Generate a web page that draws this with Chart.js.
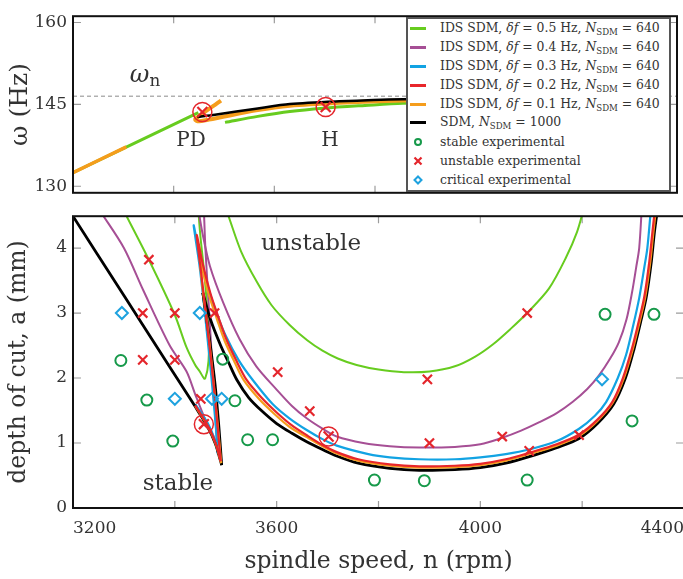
<!DOCTYPE html>
<html lang="en">
<head>
<meta charset="UTF-8">
<title>Stability lobes</title>
<style>
  html, body { margin: 0; padding: 0; background: #fff; overflow: hidden; }
  #wrap { position: relative; width: 683px; height: 579px; overflow: hidden; font-family: 'DejaVu Serif', serif; color: #333; }
  #topChart { position: absolute; left: 0; top: 0; }
  #botChart { position: absolute; left: 0; top: 200px; }
  .lbl { position: absolute; transform: translate(-50%, -50%); white-space: nowrap; line-height: 1; }
  .lbl sub { font-size: 70%; vertical-align: -0.25em; }
  #legend { position: absolute; left: 406px; top: 17px; width: 265px; height: 175px; box-sizing: border-box;
            border: 2px solid #555; background: #fff; font-size: 12.4px; color: #333; }
  .row { height: 18.9px; display: flex; align-items: center; white-space: nowrap; }
  .sw { width: 16px; height: 12px; margin-left: 2px; margin-right: 14px; flex: none; display: flex; align-items: center; justify-content: center; }
  .sw span { display: block; width: 16px; height: 3px; }
  .row sub { font-size: 8.6px; vertical-align: -3px; }
</style>
</head>
<body>
<div id="wrap">
  <canvas id="topChart" width="688" height="209"></canvas>
  <canvas id="botChart" width="695" height="379"></canvas>

  <div class="lbl" style="left:145px; top:75px; font-size:24px;"><i>ω</i><sub>n</sub></div>
  <div class="lbl" style="left:191px; top:139px; font-size:20px;">PD</div>
  <div class="lbl" style="left:330px; top:139px; font-size:20px;">H</div>
  <div class="lbl" style="left:311px; top:242px; font-size:23px;">unstable</div>
  <div class="lbl" style="left:178px; top:482px; font-size:23px;">stable</div>

  <div id="legend"></div>
</div>

<script src="https://cdn.jsdelivr.net/npm/chart.js"></script>
<script>
// ---- data ----
const xTicks = [3200, 3400, 3600, 3800, 4000, 4200, 4400];
const xLabelTicks = [3200, 3600, 4000, 4400];
const topYTicks = [130, 145, 160];
const botYTicks = [0, 1, 2, 3, 4];
const wnLevel = 146.5;

// top panel: chatter frequency (Hz)
const topGreenA = [[3200, 132.5], [3449, 143.5]];
const topOrangeA = [[3200, 132.5], [3306, 137.2]];
const topGreenB = [[3502, 141.7], [3567, 142.8], [3631, 143.7], [3698, 144.3], [3780, 144.8], [3855, 145.2], [4000, 145.5], [4250, 145.7]];
const topOrangeB = [[3494, 145.7], [3443, 142.3], [3447, 141.9], [3470, 142.2], [3567, 143.95], [3631, 144.75], [3729, 145.3], [3855, 145.7], [4000, 145.9], [4250, 146.1]];
const topBlack = [[3447, 142.7], [3482, 143.1], [3567, 144.25], [3631, 145.05], [3729, 145.55], [3855, 145.95], [4000, 146.1], [4250, 146.3]];
const topCircled = [[3457, 143.6], [3702, 144.5]];

// bottom panel: stability lobes, depth of cut (mm)
const sdmLeft = [[3195, 4.55], [3300, 3.27], [3390, 2.17], [3440, 1.56], [3465, 1.24], [3480, 0.98], [3487, 0.8], [3492, 0.66]];
const sdmRise = [[3492, 0.66], [3487, 1.2], [3479, 1.9], [3468, 2.6], [3455, 3.31]];
const sdmRight = [[3455, 3.31], [3470, 2.9], [3490, 2.5], [3505, 2.25], [3522, 1.97], [3545, 1.7], [3570, 1.5], [3600, 1.3], [3630, 1.15], [3659, 1.02], [3690, 0.9], [3718, 0.8], [3760, 0.69], [3822, 0.61], [3880, 0.58], [3950, 0.59], [4000, 0.62], [4050, 0.69], [4096, 0.79], [4150, 0.93], [4194, 1.07], [4230, 1.3], [4262, 1.6], [4285, 2.0], [4302, 2.45], [4316, 2.9], [4326, 3.25], [4336, 3.8], [4342, 4.25], [4348, 4.6]];

const df02Left = [[3440, 1.58], [3465, 1.26], [3480, 1.0], [3490, 0.72]];
const df02Right = [[3490, 0.72], [3484, 1.25], [3475, 2.0], [3463, 2.85], [3452, 3.6], [3443, 4.2], [3455, 3.75], [3470, 3.3], [3485, 2.95], [3500, 2.62], [3520, 2.28], [3541, 1.97], [3570, 1.7], [3600, 1.47], [3630, 1.27], [3659, 1.12], [3690, 0.97], [3718, 0.86], [3760, 0.75], [3822, 0.67], [3880, 0.64], [3950, 0.65], [4000, 0.68], [4050, 0.75], [4096, 0.85], [4150, 0.98], [4194, 1.13], [4230, 1.36], [4259, 1.63], [4280, 2.0], [4298, 2.46], [4312, 2.9], [4322, 3.25], [4332, 3.8], [4338, 4.25], [4343, 4.6]];

const df01Left = [[3440, 1.57], [3465, 1.25], [3480, 0.99], [3491, 0.69]];
const df01Right = [[3491, 0.69], [3485, 1.22], [3476, 1.95], [3465, 2.75], [3455, 3.35], [3447, 4.05], [3455, 3.65], [3468, 3.25], [3483, 2.9], [3498, 2.57], [3517, 2.25], [3535, 1.97], [3565, 1.68], [3595, 1.45], [3625, 1.25], [3659, 1.09], [3690, 0.95], [3718, 0.84], [3760, 0.73], [3822, 0.65], [3880, 0.62], [3950, 0.63], [4000, 0.66], [4050, 0.73], [4096, 0.83], [4150, 0.96], [4194, 1.11], [4230, 1.34], [4260, 1.62], [4282, 2.0], [4300, 2.46], [4314, 2.9], [4324, 3.25], [4334, 3.8], [4340, 4.25], [4345, 4.6]];

const df03Left = [[3440, 1.6], [3465, 1.3], [3478, 1.06], [3485, 0.82]];
const df03Right = [[3485, 0.82], [3480, 1.3], [3472, 2.0], [3461, 2.85], [3449, 3.7], [3437, 4.35], [3450, 3.85], [3465, 3.4], [3482, 3.0], [3500, 2.65], [3525, 2.28], [3553, 1.97], [3592, 1.6], [3625, 1.38], [3659, 1.2], [3690, 1.06], [3718, 0.96], [3780, 0.83], [3822, 0.78], [3880, 0.75], [3950, 0.75], [4000, 0.78], [4050, 0.83], [4096, 0.9], [4150, 1.03], [4194, 1.22], [4225, 1.42], [4247, 1.63], [4270, 2.0], [4286, 2.35], [4300, 2.8], [4312, 3.23], [4322, 3.7], [4328, 4.0], [4335, 4.6]];

const df04Left = [[3255, 4.55], [3300, 4.0], [3338, 3.35], [3390, 2.5], [3423, 2.1], [3440, 1.75], [3462, 1.32], [3475, 1.12], [3483, 0.97]];
const df04Rise = [[3483, 0.97], [3478, 1.6], [3472, 2.4], [3466, 3.2], [3460, 4.0], [3457, 4.6]];
const df04Right = [[3446, 4.6], [3455, 4.2], [3469, 3.72], [3495, 3.16], [3527, 2.6], [3560, 2.18], [3599, 1.83], [3630, 1.57], [3659, 1.38], [3690, 1.22], [3718, 1.1], [3770, 1.0], [3822, 0.95], [3880, 0.93], [3950, 0.94], [4000, 0.98], [4043, 1.08], [4080, 1.19], [4116, 1.32], [4150, 1.46], [4181, 1.63], [4210, 1.83], [4233, 2.04], [4255, 2.3], [4272, 2.55], [4287, 2.9], [4298, 3.32], [4306, 3.7], [4312, 4.0], [4317, 4.6]];

const df05Left = [[3298, 4.6], [3349, 3.82], [3400, 2.97], [3423, 2.47], [3440, 2.2], [3449, 2.1], [3455, 2.02], [3459, 1.98]];
const df05Rise = [[3459, 1.98], [3464, 2.12], [3467, 2.4], [3465, 2.9], [3458, 3.6], [3450, 4.2], [3446, 4.6]];
const df05Right = [[3500, 4.6], [3505, 4.5], [3530, 3.95], [3561, 3.48], [3590, 3.12], [3625, 2.82], [3660, 2.58], [3690, 2.42], [3720, 2.3], [3757, 2.2], [3800, 2.13], [3850, 2.09], [3900, 2.1], [3950, 2.18], [3990, 2.33], [4025, 2.52], [4060, 2.76], [4092, 3.0], [4135, 3.38], [4168, 3.85], [4190, 4.25], [4203, 4.6]];

const stableExp = [[3294, 2.27], [3494, 2.29], [3345, 1.66], [3518, 1.65], [3396, 1.03], [3543, 1.05], [3592, 1.05], [3792, 0.43], [3890, 0.42], [4092, 0.43], [4245, 2.98], [4341, 2.98], [4298, 1.34]];
const unstableExp = [[3349, 3.82], [3337, 3.0], [3400, 3.0], [3478, 3.0], [3337, 2.28], [3400, 2.28], [3451, 1.68], [3602, 2.09], [3665, 1.49], [3896, 1.98], [3900, 1.0], [4092, 3.0], [4043, 1.1], [4096, 0.88], [4194, 1.12]];
const criticalExp = [[3296, 3.0], [3449, 3.0], [3400, 1.68], [3473, 1.68], [3492, 1.68], [4239, 1.98]];
const circledExp = [[3457, 1.29], [3702, 1.1]];

// ---- colours ----
const C = {
  green: '#67cc1f', purple: '#a64f95', blue: '#12a3e3', red: '#e8262b', orange: '#f59d1c', black: '#000',
  mGreen: '#16994a', mRed: '#e4262c', mBlue: '#1ea2df'
};
const FONT = "'DejaVu Serif', serif";

const pts = a => a.map(([x, y]) => ({x, y}));
function curve(a, color, w) {
  return {data: pts(a), showLine: true, borderColor: color, borderWidth: w, pointRadius: 0, tension: 0.3, fill: false};
}
function marks(a, style, color, r, w) {
  return {data: pts(a), showLine: false, pointStyle: style, pointRadius: r, pointBorderColor: color,
          pointBackgroundColor: 'rgba(0,0,0,0)', pointBorderWidth: w, borderColor: color, backgroundColor: 'rgba(0,0,0,0)'};
}
// first in list = drawn first (bottom)
const layered = list => list.map((d, i) => Object.assign(d, {order: list.length - i}));

const framePlugin = {
  id: 'frame',
  beforeDatasetsDraw(chart, args, opts) {
    const {ctx, chartArea: a, scales: {x, y}} = chart;
    ctx.save();
    ctx.strokeStyle = '#9c9c9c';
    ctx.lineWidth = 1.2;
    ctx.beginPath();
    opts.xTicks.forEach(v => {
      const px = x.getPixelForValue(v);
      ctx.moveTo(px, a.top); ctx.lineTo(px, a.top + 7);
      ctx.moveTo(px, a.bottom); ctx.lineTo(px, a.bottom - 7);
    });
    opts.yTicks.forEach(v => {
      const py = y.getPixelForValue(v);
      ctx.moveTo(a.left, py); ctx.lineTo(a.left + 8, py);
      ctx.moveTo(a.right, py); ctx.lineTo(a.right - 8, py);
    });
    ctx.stroke();
    ctx.restore();
  },
  afterDraw(chart) {
    const {ctx, chartArea: a} = chart;
    ctx.save();
    ctx.strokeStyle = '#111';
    ctx.lineWidth = 2;
    ctx.strokeRect(a.left, a.top, a.right - a.left, a.bottom - a.top);
    ctx.restore();
  }
};

function yAxis(min, max, ticks, title, titleSize) {
  return {
    type: 'linear', min: min, max: max,
    afterBuildTicks: s => { s.ticks = ticks.map(v => ({value: v})); },
    grid: {display: false, drawTicks: false}, border: {display: false},
    ticks: {font: {family: FONT, size: 17}, color: '#333', padding: 6},
    title: {display: true, text: title, color: '#333', font: {family: FONT, size: titleSize}, padding: {top: 5, bottom: 0}},
    afterFit: s => { s.width = 73; }
  };
}

const common = {
  responsive: false, animation: false, events: [],
};

// ---- top chart ----
new Chart(document.getElementById('topChart'), {
  type: 'scatter',
  data: {datasets: layered([
    Object.assign(curve([[3200, wnLevel], [4400, wnLevel]], '#8a8a8a', 1), {borderDash: [4, 3], tension: 0}),
    curve(topGreenA, C.green, 3),
    curve(topOrangeA, C.orange, 3.5),
    curve(topGreenB, C.green, 3),
    curve(topOrangeB, C.orange, 4),
    curve(topBlack, C.black, 2.5),
    marks(topCircled, 'circle', C.mRed, 9.5, 1.5),
    marks(topCircled, 'crossRot', C.mRed, 7, 2.2)
  ])},
  options: Object.assign({}, common, {
    layout: {padding: {top: 9.5, bottom: 1, left: 0, right: 3}},
    scales: {
      x: {type: 'linear', min: 3200, max: 4400, display: false},
      y: yAxis(128.8, 161.15, topYTicks, 'ω (Hz)', 25)
    },
    plugins: {legend: {display: false}, tooltip: {enabled: false}, frame: {xTicks: xTicks, yTicks: topYTicks}}
  }),
  plugins: [framePlugin]
});

// ---- bottom chart ----
new Chart(document.getElementById('botChart'), {
  type: 'scatter',
  data: {datasets: layered([
    curve(df05Left, C.green, 2), curve(df05Rise, C.green, 2), curve(df05Right, C.green, 2),
    curve(df04Left, C.purple, 2), curve(df04Rise, C.purple, 2), curve(df04Right, C.purple, 2),
    curve(df03Left, C.blue, 2.2), curve(df03Right, C.blue, 2.2),
    curve(sdmLeft, C.black, 2.8), curve(sdmRise, C.black, 2.8), curve(sdmRight, C.black, 2.8),
    curve(df01Left, C.orange, 2.2), curve(df01Right, C.orange, 2.2),
    curve(df02Left, C.red, 2.2), curve(df02Right, C.red, 2.2),
    marks(stableExp, 'circle', C.mGreen, 5.5, 2),
    marks(criticalExp, 'rectRot', C.mBlue, 6, 2),
    marks(unstableExp, 'crossRot', C.mRed, 6.5, 2.2),
    marks(circledExp, 'circle', C.mRed, 9.5, 1.5),
    marks(circledExp, 'crossRot', C.mRed, 7, 2.2)
  ])},
  options: Object.assign({}, common, {
    layout: {padding: {top: 16, bottom: 0, left: 0, right: 3}},
    scales: {
      x: {
        type: 'linear', min: 3200, max: 4400,
        afterBuildTicks: s => { s.ticks = xTicks.map(v => ({value: v})); },
        grid: {display: false, drawTicks: false}, border: {display: false},
        ticks: {font: {family: FONT, size: 17}, color: '#333', padding: 10, align: 'inner', autoSkip: false, maxRotation: 0,
                callback: v => xLabelTicks.includes(v) ? String(v) : ''},
        title: {display: true, text: 'spindle speed, n (rpm)', color: '#333', font: {family: FONT, size: 23.5}, padding: {top: 0, bottom: 3}},
        afterFit: s => { s.height = 71; }
      },
      y: yAxis(0, 4.49, botYTicks, 'depth of cut, a (mm)', 23.5)
    },
    plugins: {legend: {display: false}, tooltip: {enabled: false}, frame: {xTicks: xTicks, yTicks: botYTicks}}
  }),
  plugins: [framePlugin]
});

// ---- legend (inside top panel) ----
const legendRows = [
  {kind: 'line', color: C.green, html: 'IDS SDM, <i>δf</i> = 0.5 Hz, <i>N</i><sub>SDM</sub> = 640'},
  {kind: 'line', color: C.purple, html: 'IDS SDM, <i>δf</i> = 0.4 Hz, <i>N</i><sub>SDM</sub> = 640'},
  {kind: 'line', color: C.blue, html: 'IDS SDM, <i>δf</i> = 0.3 Hz, <i>N</i><sub>SDM</sub> = 640'},
  {kind: 'line', color: C.red, html: 'IDS SDM, <i>δf</i> = 0.2 Hz, <i>N</i><sub>SDM</sub> = 640'},
  {kind: 'line', color: C.orange, html: 'IDS SDM, <i>δf</i> = 0.1 Hz, <i>N</i><sub>SDM</sub> = 640'},
  {kind: 'line', color: C.black, html: 'SDM, <i>N</i><sub>SDM</sub> = 1000'},
  {kind: 'circle', color: C.mGreen, html: 'stable experimental'},
  {kind: 'cross', color: C.mRed, html: 'unstable experimental'},
  {kind: 'diamond', color: C.mBlue, html: 'critical experimental'}
];
const legendShapes = {
  circle: c => '<svg width="10" height="10"><circle cx="5" cy="5" r="3" fill="none" stroke="' + c + '" stroke-width="2"/></svg>',
  cross: c => '<svg width="10" height="10"><path d="M1.5 1.5L8.5 8.5M8.5 1.5L1.5 8.5" stroke="' + c + '" stroke-width="2.2"/></svg>',
  diamond: c => '<svg width="10" height="10"><path d="M5 1.5L8.5 5L5 8.5L1.5 5Z" fill="none" stroke="' + c + '" stroke-width="2"/></svg>'
};
document.getElementById('legend').innerHTML = legendRows.map(r => {
  const sw = r.kind === 'line' ? '<span style="background:' + r.color + '"></span>' : legendShapes[r.kind](r.color);
  return '<div class="row"><div class="sw">' + sw + '</div><div>' + r.html + '</div></div>';
}).join('');
</script>
</body>
</html>
